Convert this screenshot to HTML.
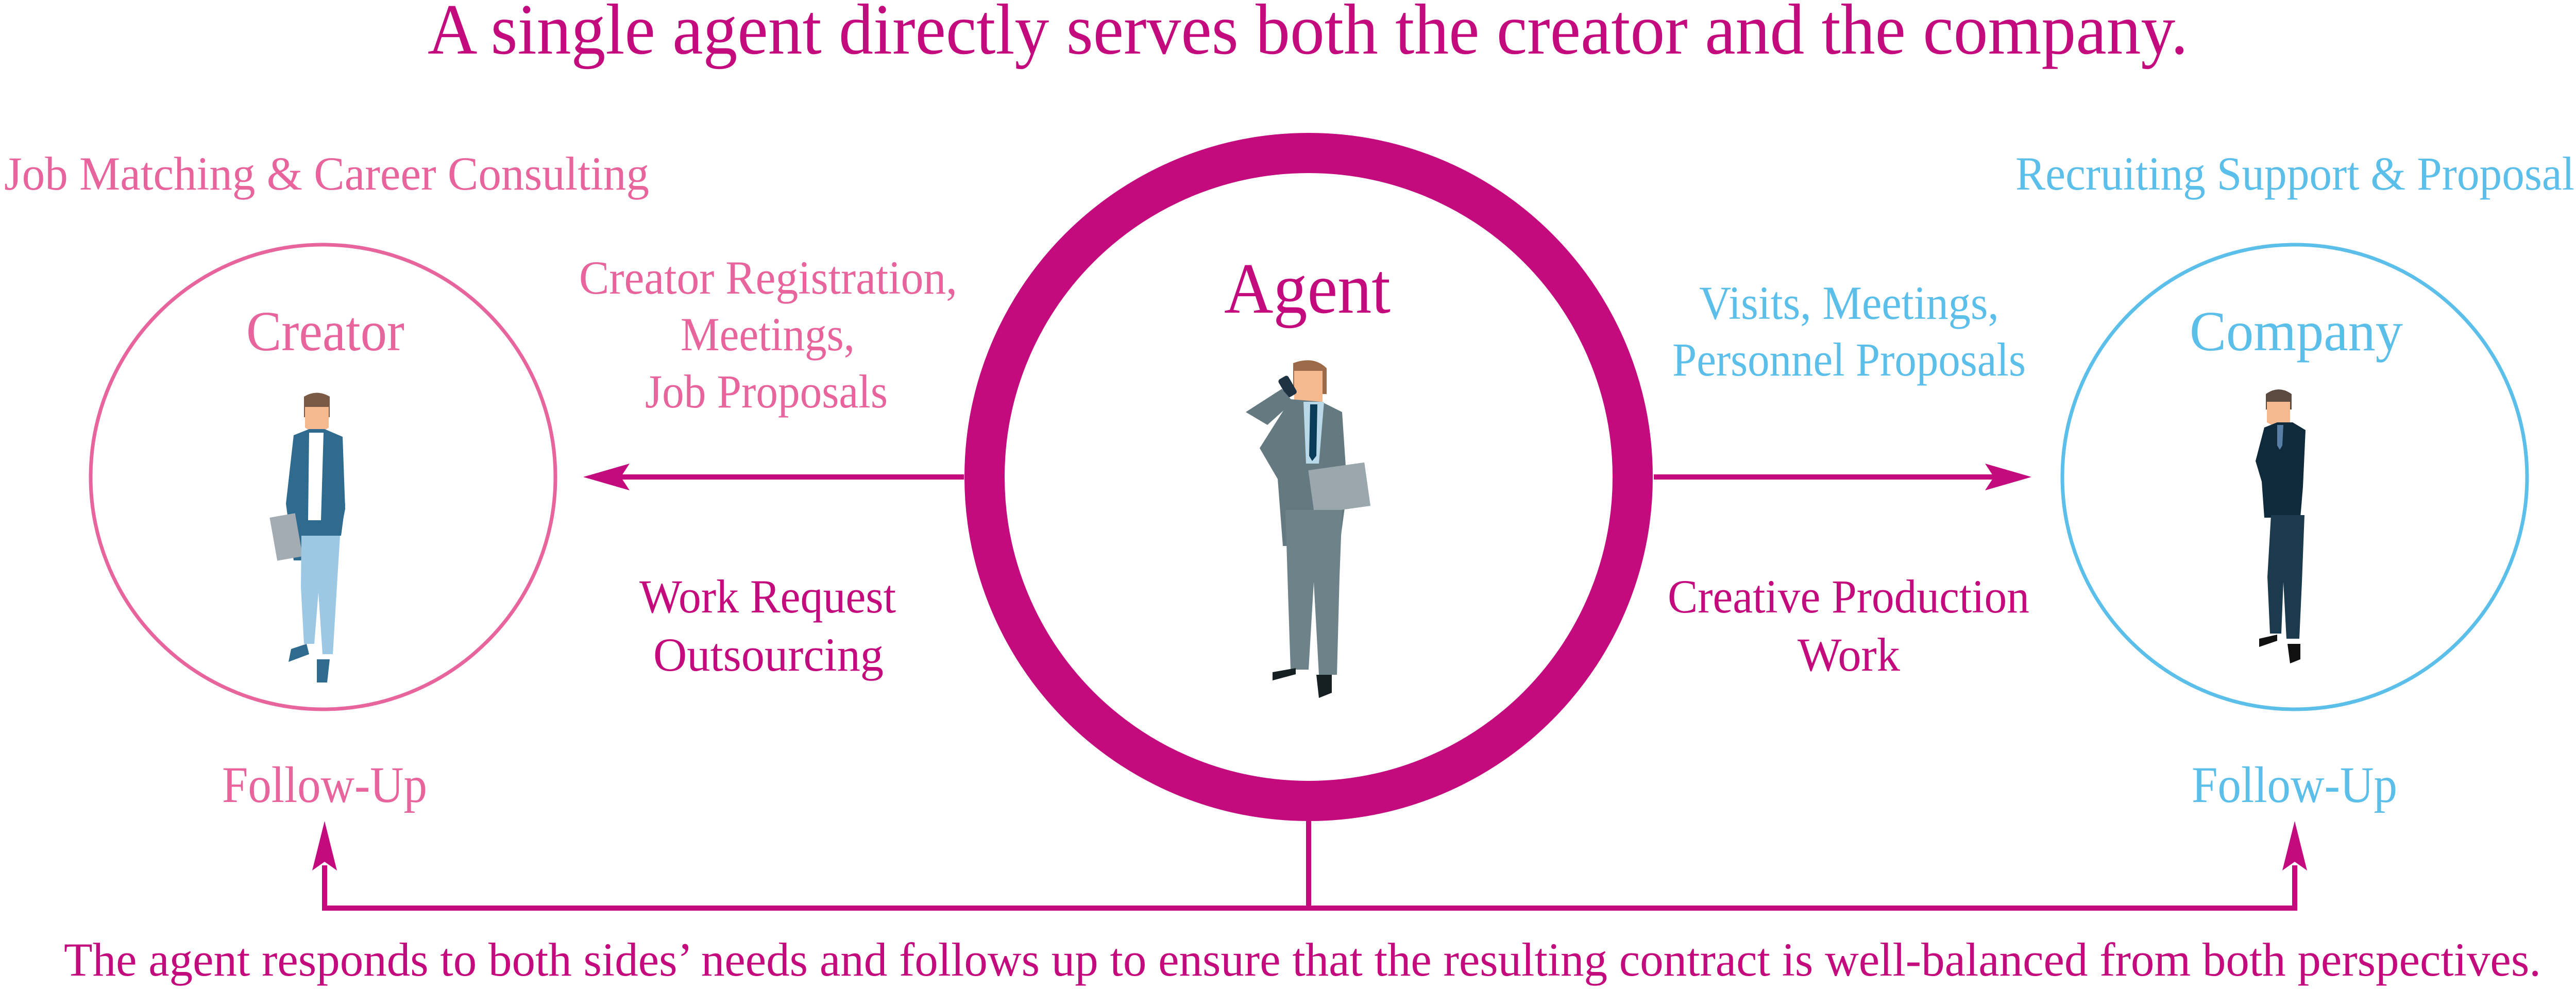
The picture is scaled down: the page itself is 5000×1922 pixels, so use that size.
<!DOCTYPE html>
<html><head><meta charset="utf-8"><style>
html,body{margin:0;padding:0;background:#fff;}
svg{display:block;font-family:"Liberation Serif","DejaVu Serif",serif;}
svg text{font-family:"Liberation Serif","DejaVu Serif",serif;}
</style></head><body>
<svg width="5000" height="1922" viewBox="0 0 5000 1922" xmlns="http://www.w3.org/2000/svg" font-family="Liberation Serif, DejaVu Serif, serif">
<g fill="#c40b7d" font-family="Liberation Serif, serif">
<text x="830" y="104" font-size="140" textLength="3417" lengthAdjust="spacingAndGlyphs">A single agent directly serves both the creator and the company.</text>
</g>
<g fill="#e8649d" font-size="92" font-family="Liberation Serif, serif">
<text x="8" y="368" textLength="1252" lengthAdjust="spacingAndGlyphs">Job Matching &amp; Career Consulting</text>
<text x="478" y="680" font-size="110" textLength="307" lengthAdjust="spacingAndGlyphs">Creator</text>
<text x="1124" y="570" textLength="734" lengthAdjust="spacingAndGlyphs">Creator Registration,</text>
<text x="1321" y="680" textLength="338" lengthAdjust="spacingAndGlyphs">Meetings,</text>
<text x="1252" y="791" textLength="471" lengthAdjust="spacingAndGlyphs">Job Proposals</text>
<text x="431" y="1557" font-size="100" textLength="398" lengthAdjust="spacingAndGlyphs">Follow-Up</text>
</g>
<g fill="#5bbfea" font-size="92" font-family="Liberation Serif, serif">
<text x="3912" y="368" textLength="1085" lengthAdjust="spacingAndGlyphs">Recruiting Support &amp; Proposal</text>
<text x="4250" y="680" font-size="110" textLength="414" lengthAdjust="spacingAndGlyphs">Company</text>
<text x="3298" y="619" textLength="582" lengthAdjust="spacingAndGlyphs">Visits, Meetings,</text>
<text x="3246" y="729" textLength="686" lengthAdjust="spacingAndGlyphs">Personnel Proposals</text>
<text x="4254" y="1557" font-size="100" textLength="399" lengthAdjust="spacingAndGlyphs">Follow-Up</text>
</g>
<g fill="#c40b7d" font-size="92" font-family="Liberation Serif, serif">
<text x="2376" y="607" font-size="140" textLength="323" lengthAdjust="spacingAndGlyphs">Agent</text>
<text x="1241" y="1189" textLength="498" lengthAdjust="spacingAndGlyphs">Work Request</text>
<text x="1268" y="1302" textLength="447" lengthAdjust="spacingAndGlyphs">Outsourcing</text>
<text x="3237" y="1189" textLength="702" lengthAdjust="spacingAndGlyphs">Creative Production</text>
<text x="3489" y="1302" textLength="199" lengthAdjust="spacingAndGlyphs">Work</text>
<text x="124" y="1894" textLength="4808" lengthAdjust="spacingAndGlyphs">The agent responds to both sides’ needs and follows up to ensure that the resulting contract is well-balanced from both perspectives.</text>
</g>
<circle cx="627" cy="926" r="451" fill="none" stroke="#e8649d" stroke-width="7"/>
<circle cx="4454" cy="926" r="451" fill="none" stroke="#5bbfea" stroke-width="7"/>
<circle cx="2540" cy="926" r="629" fill="none" stroke="#c40b7d" stroke-width="78"/>
<g stroke="#c40b7d" stroke-width="10" fill="none">
<line x1="1871" y1="926" x2="1200" y2="926"/>
<line x1="3210" y1="926" x2="3880" y2="926"/>
<polyline points="630,1680 630,1763 4454,1763 4454,1680"/>
<line x1="2540" y1="1594" x2="2540" y2="1763"/>
</g>
<g fill="#c40b7d">
<polygon points="1132,926 1222,900 1205,926 1222,952"/>
<polygon points="3943,926 3853,900 3870,926 3853,952"/>
<polygon points="630,1594 606,1690 630,1673 654,1690"/>
<polygon points="4454,1594 4430,1690 4454,1673 4478,1690"/>
</g>
<g>
<path d="M590 770 q25-15 50 0 v40 h-50z" fill="#7a5a45"/>
<path d="M592 790 h46 v40 q-23 18-46 0z" fill="#f4b98e"/>
<path d="M570 845 l30-12 h30 l35 15 l5 140 l-20 100 h-80 l-15-110z" fill="#2e6b8f"/>
<path d="M600 840 h28 l-5 170 h-25z" fill="#ffffff"/>
<rect x="530" y="1000" width="50" height="85" fill="#a3acb3" transform="rotate(-10 555 1040)"/>
<path d="M585 1040 h75 l-8 130 l-6 100 h-20 l-8-120 l-8 100 h-20 l-6-110z" fill="#9cc8e4"/>
<path d="M565 1260 l30-10 l5 20 l-40 15z" fill="#2e6b8f"/>
<path d="M615 1280 h25 l-5 45 h-20z" fill="#2e6b8f"/>
<path d="M655 850 l15 130 l-8 60 l-10 0 l-5-80z" fill="#2e6b8f"/>
</g>
<g>
<path d="M2510 705 q40-15 65 10 v50 h-65z" fill="#9b6a48"/>
<path d="M2512 720 h55 v60 q-25 20-55 5z" fill="#f4b98e"/>
<rect x="2488" y="730" width="22" height="40" rx="5" fill="#1d3344" transform="rotate(-30 2500 750)"/>
<path d="M2418 800 l70-45 l22 25 l-50 45 z" fill="#657a80"/>
<path d="M2505 775 l60 5 l40 20 l10 150 l-15 110 h-110 l-10-130 l-35-60 z" fill="#657a80"/>
<path d="M2530 780 h40 l-10 120 h-25z" fill="#b9d9e8"/>
<path d="M2543 785 h14 l-2 100 l-8 10 l-6-10z" fill="#0b3c57"/>
<rect x="2545" y="905" width="110" height="85" fill="#9aa8ae" transform="rotate(-8 2600 950)"/>
<path d="M2495 990 h110 l-5 130 l-5 190 h-35 l-10-180 l-10 170 h-35 l-5-150z" fill="#6e8389"/>
<path d="M2470 1305 l45-8 v12 l-45 12z" fill="#151f24"/>
<path d="M2555 1310 h30 v35 l-25 10z" fill="#151f24"/>
</g>
<g>
<path d="M4398 765 q25-18 50 0 v30 h-50z" fill="#5a4a3f"/>
<path d="M4400 780 h45 v40 q-22 15-45 0z" fill="#f4b98e"/>
<path d="M4395 830 l25-10 h30 l25 15 l-5 110 l-5 60 h-70 l-5-70 l-12-40z" fill="#0f2a3a"/>
<path d="M4420 825 h12 l-2 40 l-5 8 l-5-8z" fill="#5a7fa6"/>
<path d="M4408 1000 h65 l-5 130 l-5 110 h-25 l-6-110 l-4 100 h-22 l-5-110z" fill="#1b3a4d"/>
<path d="M4385 1240 l35-8 v12 l-35 12z" fill="#111"/>
<path d="M4440 1250 h25 v30 l-20 8z" fill="#111"/>
</g>
</svg>
</body></html>
